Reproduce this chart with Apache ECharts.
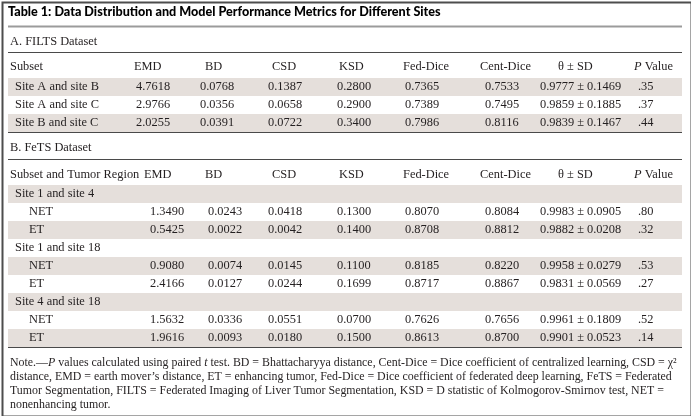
<!DOCTYPE html>
<html><head><meta charset="utf-8">
<script src="https://cdn.jsdelivr.net/npm/echarts@6/dist/echarts.min.js"></script>
<style>html,body{margin:0;padding:0;background:#fff}#c{width:691px;height:416px}</style>
</head><body><div id="c"></div>
<script>
// ---------------- DATA ----------------
const titleText = 'Table 1: Data Distribution and Model Performance Metrics for Different Sites';
const sectionAName = 'A. FILTS Dataset';
const sectionBName = 'B. FeTS Dataset';
const headersA = ['Subset', 'EMD', 'BD', 'CSD', 'KSD', 'Fed-Dice', 'Cent-Dice', 'θ ± SD', '{i|P} Value'];
const headersB = ['Subset and Tumor Region', 'EMD', 'BD', 'CSD', 'KSD', 'Fed-Dice', 'Cent-Dice', 'θ ± SD', '{i|P} Value'];

const subsetsA = ['Site A and site B', 'Site A and site C', 'Site B and site C'];
const emdA = [4.7618, 2.9766, 2.0255];
const bdA = [0.0768, 0.0356, 0.0391];
const csdA = [0.1387, 0.0658, 0.0722];
const ksdA = [0.2800, 0.2900, 0.3400];
const fedDiceA = [0.7365, 0.7389, 0.7986];
const centDiceA = [0.7533, 0.7495, 0.8116];
const thetaA = [0.9777, 0.9859, 0.9839];
const sdA = [0.1469, 0.1885, 0.1467];
const pA = ['.35', '.37', '.44'];

const groupsB = ['Site 1 and site 4', 'Site 1 and site 18', 'Site 4 and site 18'];
const regionsB = ['NET', 'ET'];
const emdB = [1.3490, 0.5425, 0.9080, 2.4166, 1.5632, 1.9616];
const bdB = [0.0243, 0.0022, 0.0074, 0.0127, 0.0336, 0.0093];
const csdB = [0.0418, 0.0042, 0.0145, 0.0244, 0.0551, 0.0180];
const ksdB = [0.1300, 0.1400, 0.1100, 0.1699, 0.0700, 0.1500];
const fedDiceB = [0.8070, 0.8708, 0.8185, 0.8717, 0.7626, 0.8613];
const centDiceB = [0.8084, 0.8812, 0.8220, 0.8867, 0.7656, 0.8700];
const thetaB = [0.9983, 0.9882, 0.9958, 0.9831, 0.9961, 0.9901];
const sdB = [0.0905, 0.0208, 0.0279, 0.0569, 0.1809, 0.0523];
const pB = ['.80', '.32', '.53', '.27', '.52', '.14'];

const noteLines = [
  'Note.—{i|P} values calculated using paired {i|t} test. BD = Bhattacharyya distance, Cent-Dice = Dice coefficient of centralized learning, CSD = χ²',
  'distance, EMD = earth mover\u2019s distance, ET = enhancing tumor, Fed-Dice = Dice coefficient of federated deep learning, FeTS = Federated',
  'Tumor Segmentation, FILTS = Federated Imaging of Liver Tumor Segmentation, KSD = D statistic of Kolmogorov-Smirnov test, NET =',
  'nonenhancing tumor.'
];

// ---------------- LAYOUT ----------------
const W = 691, H = 416;
const L = {
  left: 8, right: 682,
  titleY: 12, titleLineY: 26.5,
  secAY: 42, lineA1: 52.5, headAY: 67, rowA0: 87, lineA2: 132.5,
  secBY: 148, lineB1: 159.5, headBY: 175, rowB0: 194, lineB2: 347.5,
  noteY0: 363, noteDY: 14, rowH: 18,
  headX: [10, 134, 205, 272, 339, 403, 480, 558, 634],
  headXB: [10, 144, 205, 272, 339, 403, 480, 558, 634],
  valXA: [15, 136, 200, 268, 337, 405, 485, 540, 638],
  valXB: [15, 150, 208, 268, 337, 405, 485, 540, 638],
  regionX: 29
};
const serif = 'Liberation Serif';
const fs = 12.4;
const noteFs = 11.9;
const textColor = '#231f20';
const shade = '#e5dfdb';

// build cells
const cells = []; // {x,y,text,kind}
const bands = []; // y centers of shaded rows
const rules = []; // {y, color, w}
cells.push({x: L.left, y: L.titleY, text: titleText, kind: 'title'});
rules.push({y: L.titleLineY, color: '#9b9b9b', w: 2});
cells.push({x: 10, y: L.secAY, text: sectionAName, kind: 'body'});
rules.push({y: L.lineA1, color: '#4a4a4a', w: 1});
headersA.forEach((h, i) => cells.push({x: L.headX[i], y: L.headAY, text: h, kind: 'body'}));
const f4 = v => v.toFixed(4);
subsetsA.forEach((s, r) => {
  const y = L.rowA0 + r * L.rowH;
  if (r % 2 === 0) bands.push(y);
  const vals = [s, f4(emdA[r]), f4(bdA[r]), f4(csdA[r]), f4(ksdA[r]), f4(fedDiceA[r]), f4(centDiceA[r]),
    f4(thetaA[r]) + ' ± ' + f4(sdA[r]), pA[r]];
  vals.forEach((t, c) => cells.push({x: L.valXA[c], y, text: t, kind: 'body'}));
});
rules.push({y: L.lineA2, color: '#4a4a4a', w: 1});
cells.push({x: 10, y: L.secBY, text: sectionBName, kind: 'body'});
rules.push({y: L.lineB1, color: '#4a4a4a', w: 1});
headersB.forEach((h, i) => cells.push({x: L.headXB[i], y: L.headBY, text: h, kind: 'body'}));
let rr = 0;
groupsB.forEach((g, gi) => {
  let y = L.rowB0 + rr * L.rowH;
  if (rr % 2 === 0) bands.push(y);
  cells.push({x: L.valXB[0], y, text: g, kind: 'body'});
  rr++;
  regionsB.forEach((reg, ri) => {
    const k = gi * 2 + ri;
    y = L.rowB0 + rr * L.rowH;
    if (rr % 2 === 0) bands.push(y);
    const vals = [reg, f4(emdB[k]), f4(bdB[k]), f4(csdB[k]), f4(ksdB[k]), f4(fedDiceB[k]), f4(centDiceB[k]),
      f4(thetaB[k]) + ' ± ' + f4(sdB[k]), pB[k]];
    vals.forEach((t, c) => cells.push({x: c === 0 ? L.regionX : L.valXB[c], y, text: t, kind: 'body'}));
    rr++;
  });
});
rules.push({y: L.lineB2, color: '#4a4a4a', w: 1});
noteLines.forEach((t, i) => cells.push({x: 10, y: L.noteY0 + i * L.noteDY, text: t, kind: 'note'}));

const chart = echarts.init(document.getElementById('c'), null, {renderer: 'canvas'});
chart.setOption({
  animation: false,
  backgroundColor: '#ffffff',
  grid: {left: 0, right: 0, top: 0, bottom: 0},
  xAxis: {type: 'value', min: 0, max: W, show: false},
  yAxis: {type: 'value', min: 0, max: H, inverse: true, show: false},
  series: [
    {
      type: 'custom', coordinateSystem: 'cartesian2d', silent: true, z: 1,
      data: bands.map(y => [L.left, y]),
      renderItem: (params, api) => {
        const p0 = api.coord([L.left, api.value(1) - L.rowH / 2]);
        const p1 = api.coord([L.right, api.value(1) + L.rowH / 2]);
        return {type: 'rect', shape: {x: p0[0], y: p0[1], width: p1[0] - p0[0], height: p1[1] - p0[1]}, style: {fill: shade}};
      }
    },
    {
      type: 'custom', coordinateSystem: 'cartesian2d', silent: true, z: 2,
      data: rules.map(r => [L.left, r.y]),
      renderItem: (params, api) => {
        const r = rules[params.dataIndex];
        const p0 = api.coord([L.left, api.value(1)]);
        const p1 = api.coord([L.right, api.value(1)]);
        return {type: 'line', shape: {x1: p0[0], y1: p0[1], x2: p1[0], y2: p1[1]}, style: {stroke: r.color, lineWidth: r.w}};
      }
    },
    {
      type: 'custom', coordinateSystem: 'cartesian2d', silent: true, z: 3,
      data: cells.map(c => [c.x, c.y]),
      renderItem: (params, api) => {
        const c = cells[params.dataIndex];
        const p = api.coord([api.value(0), api.value(1)]);
        const isTitle = c.kind === 'title';
        const size = isTitle ? 12.6 : (c.kind === 'note' ? noteFs : fs);
        return {
          type: 'text', x: p[0], y: p[1],
          style: {
            text: c.text,
            fontFamily: isTitle ? 'Lato' : serif,
            fontWeight: isTitle ? 900 : 'normal',
            fontSize: size,
            fill: isTitle ? '#000' : textColor,
            textAlign: 'left', textVerticalAlign: 'middle',
            rich: {i: {fontStyle: 'italic', fontFamily: serif, fontSize: size, fill: textColor}}
          }
        };
      }
    }
  ],
  graphic: [{
    type: 'rect', left: 0, top: 0, silent: true,
    shape: {x: 1, y: 1, width: W - 2, height: H - 2},
    style: {fill: 'none', stroke: '#4d4d4d', lineWidth: 2}
  }]
});
</script></body></html>
